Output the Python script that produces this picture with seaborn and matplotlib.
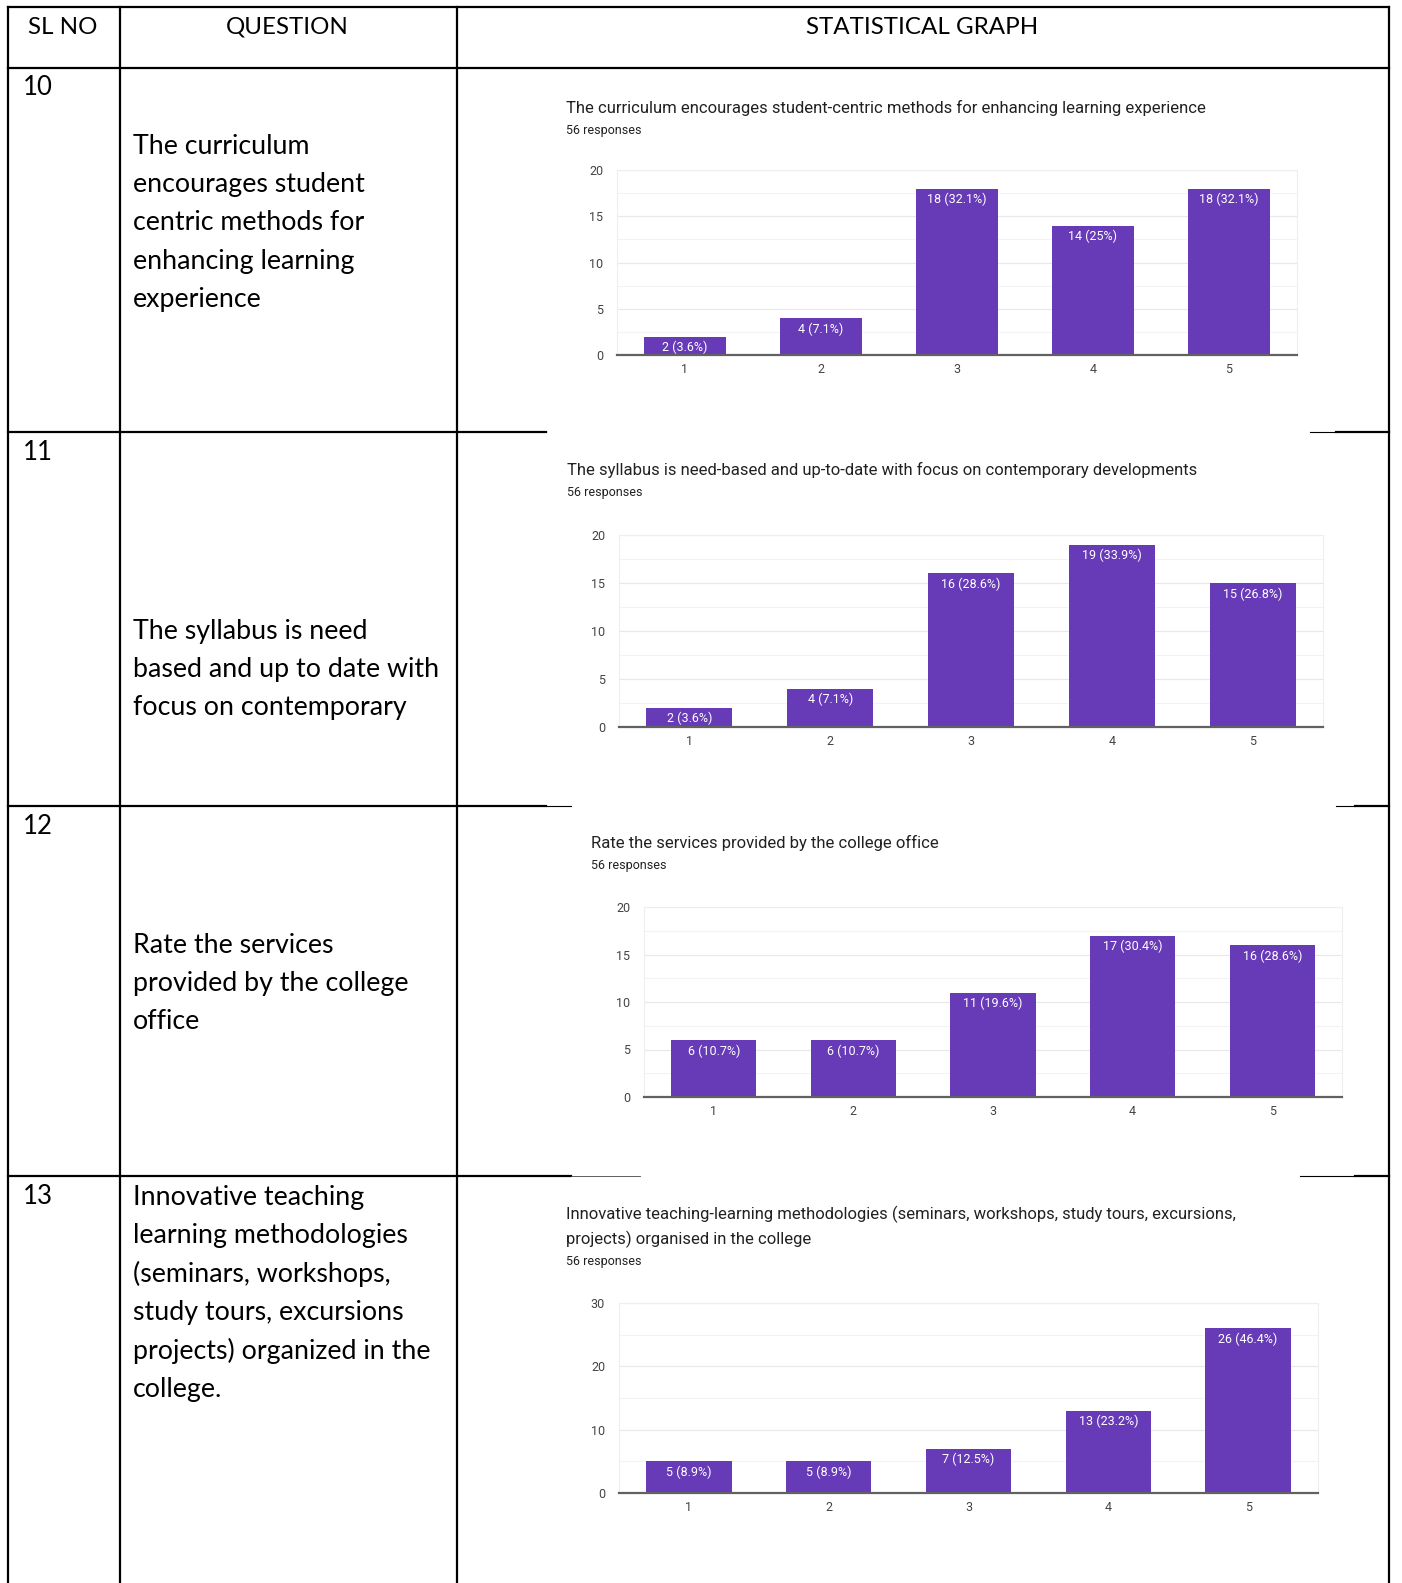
import matplotlib
matplotlib.use('Agg')
import matplotlib.pyplot as plt
import seaborn as sns

W, H = 1402, 1583

sl_numbers = ['10', '11', '12', '13']
question_lines = [
    ['The curriculum', 'encourages student', 'centric methods for', 'enhancing learning', 'experience'],
    ['The syllabus is need', 'based and up to date with', 'focus on contemporary'],
    ['Rate the services', 'provided by the college', 'office'],
    ['Innovative teaching', 'learning methodologies', '(seminars, workshops,', 'study tours, excursions',
     'projects) organized in the', 'college.'],
]
chart_titles = [
    ['The curriculum encourages student-centric methods for enhancing learning experience'],
    ['The syllabus is need-based and up-to-date with focus on contemporary developments'],
    ['Rate the services provided by the college office'],
    ['Innovative teaching-learning methodologies (seminars, workshops, study tours, excursions,',
     'projects) organised in the college'],
]
responses = 56
ratings = ['1', '2', '3', '4', '5']
counts_q10 = [2, 4, 18, 14, 18]
counts_q11 = [2, 4, 16, 19, 15]
counts_q12 = [6, 6, 11, 17, 16]
counts_q13 = [5, 5, 7, 13, 26]
all_counts = [counts_q10, counts_q11, counts_q12, counts_q13]
y_max = [20, 20, 20, 30]
y_step = [5, 5, 5, 10]

# layout in pixels
num_y = [87, 452, 826, 1196]
q_first_y = [146, 631, 945, 1197]
title_x = [566, 567, 591, 566]
title_y = [108, 470, 843, 1214]
# left, right, top, bottom of plot area
boxes = [(617, 1297, 170, 355), (619, 1323, 535, 727), (644, 1342, 907, 1097), (619, 1318, 1303, 1493)]

fig = plt.figure(figsize=(W / 100, H / 100), dpi=100)
bg = fig.add_axes([0, 0, 1, 1])
bg.set_xlim(0, W)
bg.set_ylim(H, 0)
bg.axis('off')

lw = 1.6
# outer frame and column lines
bg.plot([8, 1389], [7, 7], color='black', lw=lw)
bg.plot([8, 8], [7, H], color='black', lw=lw)
bg.plot([1389, 1389], [7, H], color='black', lw=lw)
bg.plot([120, 120], [7, H], color='black', lw=lw)
bg.plot([457, 457], [7, H], color='black', lw=lw)
bg.plot([8, 1389], [68, 68], color='black', lw=lw)
# row separators, interrupted by the pasted screenshots
bg.plot([8, 546], [432, 432], color='black', lw=lw)
bg.plot([1310, 1336], [432, 432], color='black', lw=0.8)
bg.plot([1336, 1389], [432, 432], color='black', lw=lw)
bg.plot([8, 546], [806, 806], color='black', lw=lw)
bg.plot([546, 571], [806, 806], color='black', lw=0.8)
bg.plot([1336, 1355], [806, 806], color='black', lw=0.8)
bg.plot([1355, 1389], [806, 806], color='black', lw=lw)
bg.plot([8, 571], [1176, 1176], color='black', lw=lw)
bg.plot([571, 640], [1176, 1176], color='#444444', lw=0.6)
bg.plot([1300, 1355], [1176, 1176], color='black', lw=0.8)
bg.plot([1355, 1389], [1176, 1176], color='black', lw=lw)

body_font = ['Lato', 'DejaVu Sans']
bg.text(63, 27, 'SL NO', ha='center', va='center', fontsize=17.4, family=body_font)
bg.text(287, 27, 'QUESTION', ha='center', va='center', fontsize=17.4, family=body_font)
bg.text(922, 27, 'STATISTICAL GRAPH', ha='center', va='center', fontsize=17.4, family=body_font)

for i in range(4):
    bg.text(23, num_y[i], sl_numbers[i], ha='left', va='center', fontsize=18.5, family=body_font)
    for j, line in enumerate(question_lines[i]):
        bg.text(133, q_first_y[i] + j * 38.4, line, ha='left', va='center', fontsize=19.3, family=body_font)

chart_font = ['Roboto', 'DejaVu Sans']
purple = '#673ab7'

for i in range(4):
    l, r, t, b = boxes[i]
    tx = title_x[i]
    for j, line in enumerate(chart_titles[i]):
        bg.text(tx, title_y[i] + j * 25.5, line, ha='left', va='center', fontsize=12,
                color='#212121', family=chart_font)
    bg.text(tx, title_y[i] + (len(chart_titles[i]) - 1) * 25.5 + 22, f'{responses} responses',
            ha='left', va='center', fontsize=9, color='#212121', family=chart_font)

    ax = fig.add_axes([l / W, 1 - b / H, (r - l) / W, (b - t) / H])
    counts = all_counts[i]
    sns.barplot(x=ratings, y=counts, color=purple, saturation=1, width=0.61, ax=ax, zorder=3)
    ax.set_xlim(-0.5, 4.5)
    ax.set_ylim(0, y_max[i])
    ax.set_yticks(range(0, y_max[i] + 1, y_step[i]))
    ax.set_yticks([v + y_step[i] / 2 for v in range(0, y_max[i], y_step[i])], minor=True)
    ax.grid(axis='y', which='major', color='#e8e8e8', lw=0.9, zorder=0)
    ax.grid(axis='y', which='minor', color='#f3f3f3', lw=0.8, zorder=0)
    ax.set_xlabel('')
    ax.set_ylabel('')
    for s in ['left', 'right', 'top']:
        ax.spines[s].set_color('#eeeeee')
        ax.spines[s].set_linewidth(0.8)
    ax.spines['bottom'].set_color('#616161')
    ax.spines['bottom'].set_linewidth(1.6)
    ax.spines['bottom'].set_zorder(5)
    ax.tick_params(axis='both', which='both', length=0, labelsize=9, labelcolor='#444444')
    ax.tick_params(axis='y', pad=10)
    ax.tick_params(axis='x', pad=6)
    for lab in ax.get_xticklabels() + ax.get_yticklabels():
        lab.set_family(chart_font)
    for k, c in enumerate(counts):
        pct = round(c / responses * 100, 1)
        pct_txt = f'{pct:g}'
        ax.annotate(f'{c} ({pct_txt}%)', (k, c), xytext=(0, -3), textcoords='offset points',
                    ha='center', va='top', color='white', fontsize=9, family=chart_font, zorder=6)

fig.savefig('out.png', dpi=100)
